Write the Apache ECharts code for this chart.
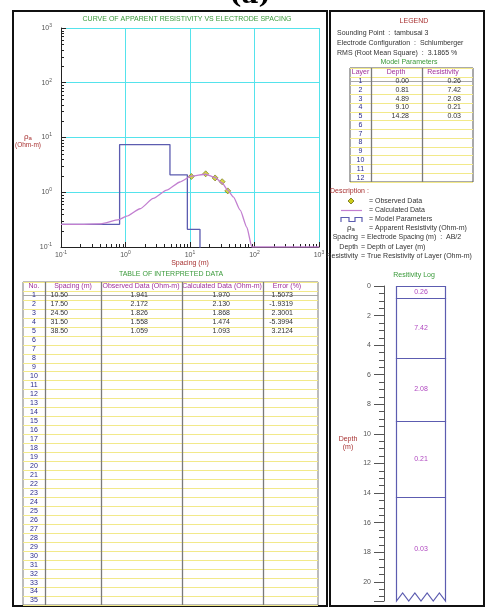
<!DOCTYPE html>
<html>
  <head>
    <meta charset="UTF-8" />
    <title>Resistivity sounding - tambusai 3</title>
    <script src="https://cdn.jsdelivr.net/npm/echarts@6/dist/echarts.min.js"></script>
    <style>
      html, body { margin: 0; padding: 0; background: #fff; }
      #main { width: 486px; height: 607px; }
    </style>
  </head>
  <body>
    <div id="main"></div>
    <script>
      // observed field data
      const spacing = [10.5, 17.5, 24.5, 31.5, 38.5];
      const observed = [1.941, 2.172, 1.826, 1.558, 1.059];
      const calculated = [1.97, 2.13, 1.868, 1.474, 1.093];
      const errorPct = [1.5073, -1.9319, 2.3001, -5.3994, 3.2124];

      // calculated curve
      const curveSpacing = [0.1, 0.2, 0.4, 0.79, 1.04, 1.68, 2.7, 4.35, 7.0, 10.5, 17.5, 24.5, 31.5, 38.5, 47, 60, 76, 91, 1000];
      const curveRho = [0.26, 0.26, 0.264, 0.316, 0.365, 0.5, 0.77, 1.09, 1.54, 1.97, 2.13, 1.868, 1.474, 1.093, 0.82, 0.47, 0.23, 0.1, 0.1];

      // model parameters
      const layerDepth = [0.0, 0.81, 4.89, 9.1, 14.28];
      const layerRes = [0.26, 7.42, 2.08, 0.21, 0.03];

      const dataHeaders = ['No.', 'Spacing (m)', 'Observed Data (Ohm-m)', 'Calculated Data (Ohm-m)', 'Error (%)'];
      const modelHeaders = ['Layer', 'Depth', 'Resistivity'];
      const soundingPoint = 'tambusai 3';
      const electrodeConfig = 'Schlumberger';
      const rms = '3.1865 %';

      const N_DATA_ROWS = 35;
      const N_MODEL_ROWS = 12;
      const LOG_BOTTOM = 21.3;

      const FONT = '"Liberation Sans", Arial, sans-serif';
      const GREEN = '#3a9a3a';
      const RED = '#a83232';
      const MAGENTA = '#a0309a';
      const NAVY = '#2a2a8a';
      const CYAN = '#55e3ec';
      const MODEL_BLUE = '#5c5cb0';
      const CALC_PURPLE = '#c27fd0';
      const YELLOW = '#f2e98a';

      // table layout (px offsets inside each table grid)
      const dataCols = [0, 22, 78, 159, 240, 295];
      const dataHeadX = [11, 50, 118, 199, 264];
      const dataTextX = [11, 45, 125, 207, 270];
      const dataAlign = ['center', 'right', 'right', 'right', 'right'];
      const modelCols = [0, 21, 72, 123];
      const modelHeadX = [10.5, 46, 93];
      const modelTextX = [10.5, 59, 111];
      const modelAlign = ['center', 'right', 'right'];

      const main = document.getElementById('main');
      const chart = echarts.init(main);

      function txt(x, y, text, opts) {
        return {
          type: 'text', x, y, silent: true,
          style: Object.assign({
            text, fill: '#333', fontSize: 7, fontFamily: FONT,
            align: 'left', verticalAlign: 'middle'
          }, opts || {})
        };
      }

      function rowCats(n) {
        const c = [''];
        for (let i = 1; i <= n; i++) c.push(String(i));
        return c;
      }

      function tableSeries(idx, nRows, cols, headers, headX, textX, aligns, cellsFor) {
        const data = [];
        for (let i = 0; i <= nRows; i++) data.push([0, i]);
        return {
          type: 'custom', xAxisIndex: idx, yAxisIndex: idx, silent: true, clip: false, z: 5,
          data,
          renderItem(params, api) {
            const i = params.dataIndex;
            const cs = params.coordSys;
            const y = api.coord([0, i])[1];
            const children = [];
            if (i === 0) {
              headers.forEach((h, c) => {
                children.push(txt(api.coord([headX[c], 0])[0], y, h, { fill: MAGENTA, align: 'center' }));
              });
              const yb = Math.round(api.coord([0, 0.5])[1]) + 0.5;
              children.push({ type: 'line', shape: { x1: cs.x, y1: yb, x2: cs.x + cs.width, y2: yb }, style: { stroke: '#a8a8a8', lineWidth: 1 } });
              cols.slice(1, -1).forEach((cx) => {
                const x = Math.round(api.coord([cx, 0])[0]) + 0.5;
                children.push({ type: 'line', shape: { x1: x, y1: cs.y, x2: x, y2: cs.y + cs.height }, style: { stroke: '#7a7a7a', lineWidth: 1.3 } });
              });
            } else {
              const cells = [String(i)].concat(cellsFor(i - 1));
              cells.forEach((t, c) => {
                if (!t) return;
                children.push(txt(api.coord([textX[c], i])[0], y, t, {
                  fill: c === 0 ? NAVY : '#333', align: aligns[c]
                }));
              });
            }
            return { type: 'group', children };
          }
        };
      }

      function expLabel(v) {
        return '{b|10}{e|' + Math.round(Math.log10(v)) + '}';
      }
      const expRich = {
        b: { fontSize: 7, color: '#555', fontFamily: FONT },
        e: { fontSize: 5, color: '#555', fontFamily: FONT, padding: [0, 0, 5, 0] }
      };

      const minorX = [];
      const minorY = [];
      for (let e = -1; e < 3; e++) {
        for (let m = 2; m <= 9; m++) {
          minorX.push([m * Math.pow(10, e), 0.1]);
          minorY.push([0.1, m * Math.pow(10, e)]);
        }
      }

      const option = {
        animation: false,
        backgroundColor: '#fff',
        grid: [
          { left: 61, top: 28, width: 258, height: 219 },
          { left: 23, top: 282, width: 295, height: 323, show: true, borderColor: '#7a7a7a', borderWidth: 1 },
          { left: 350, top: 68, width: 123, height: 114, show: true, borderColor: '#555', borderWidth: 1 },
          { left: 384, top: 286, width: 62, height: 315 }
        ],
        xAxis: [
          {
            gridIndex: 0, type: 'log', logBase: 10, min: 0.1, max: 1000,
            name: 'Spacing (m)', nameLocation: 'middle', nameGap: 10,
            nameTextStyle: { color: RED, fontSize: 7, fontFamily: FONT },
            axisLine: { lineStyle: { color: '#222' } },
            axisTick: { inside: true, length: 5, lineStyle: { color: '#222' } },
            axisLabel: { margin: 3, formatter: expLabel, rich: expRich },
            splitLine: { show: true, lineStyle: { color: CYAN, width: 1 } }
          },
          { gridIndex: 1, type: 'value', min: 0, max: 295, show: false },
          { gridIndex: 2, type: 'value', min: 0, max: 123, show: false },
          { gridIndex: 3, type: 'value', min: 0, max: 1, show: false }
        ],
        yAxis: [
          {
            gridIndex: 0, type: 'log', logBase: 10, min: 0.1, max: 1000,
            axisLine: { show: true, lineStyle: { color: '#222' } },
            axisTick: { show: true, inside: true, length: 5, lineStyle: { color: '#222' } },
            axisLabel: { margin: 9, formatter: expLabel, rich: expRich },
            splitLine: { show: true, lineStyle: { color: CYAN, width: 1 } }
          },
          {
            gridIndex: 1, type: 'category', inverse: true, data: rowCats(N_DATA_ROWS),
            axisLine: { show: false }, axisTick: { show: false }, axisLabel: { show: false },
            splitLine: { show: true, interval: 0, lineStyle: { color: YELLOW } }
          },
          {
            gridIndex: 2, type: 'category', inverse: true, data: rowCats(N_MODEL_ROWS),
            axisLine: { show: false }, axisTick: { show: false }, axisLabel: { show: false },
            splitLine: { show: true, interval: 0, lineStyle: { color: YELLOW } }
          },
          {
            gridIndex: 3, type: 'value', inverse: true, min: 0, max: LOG_BOTTOM, interval: 2,
            axisLine: { show: true, lineStyle: { color: '#555' } },
            axisTick: { show: true, length: 10, lineStyle: { color: '#555' } },
            minorTick: { show: true, splitNumber: 4, length: 5, lineStyle: { color: '#555' } },
            axisLabel: { margin: 13, fontSize: 7, color: '#555', fontFamily: FONT, showMaxLabel: false },
            splitLine: { show: false }
          }
        ],
        series: [
          {
            // minor log ticks, x axis
            type: 'custom', xAxisIndex: 0, yAxisIndex: 0, silent: true, clip: false, z: 3,
            data: minorX,
            renderItem(params, api) {
              const p = api.coord([api.value(0), api.value(1)]);
              const x = Math.round(p[0]) + 0.5;
              return { type: 'line', shape: { x1: x, y1: p[1], x2: x, y2: p[1] - 3 }, style: { stroke: '#222', lineWidth: 1 } };
            }
          },
          {
            // minor log ticks, y axis
            type: 'custom', xAxisIndex: 0, yAxisIndex: 0, silent: true, clip: false, z: 3,
            data: minorY,
            renderItem(params, api) {
              const p = api.coord([api.value(0), api.value(1)]);
              const y = Math.round(p[1]) + 0.5;
              return { type: 'line', shape: { x1: p[0], y1: y, x2: p[0] + 3, y2: y }, style: { stroke: '#222', lineWidth: 1 } };
            }
          },
          {
            name: 'Model Parameters', type: 'line', xAxisIndex: 0, yAxisIndex: 0,
            step: 'end', showSymbol: false, clip: true,
            data: layerDepth.map((d, i) => [Math.max(d, 0.1), layerRes[i]]),
            lineStyle: { color: MODEL_BLUE, width: 1.3 }
          },
          {
            name: 'Calculated Data', type: 'line', xAxisIndex: 0, yAxisIndex: 0,
            smooth: 0.2, smoothMonotone: 'x', showSymbol: false, clip: true,
            data: curveSpacing.map((s, i) => [s, curveRho[i]]),
            lineStyle: { color: CALC_PURPLE, width: 1.3 }
          },
          {
            name: 'Observed Data', type: 'scatter', xAxisIndex: 0, yAxisIndex: 0,
            symbol: 'diamond', symbolSize: 6,
            data: spacing.map((s, i) => [s, observed[i]]),
            itemStyle: { color: '#cccc1a', borderColor: '#6b6b10', borderWidth: 0.8 }
          },
          tableSeries(1, N_DATA_ROWS, dataCols, dataHeaders, dataHeadX, dataTextX, dataAlign, (r) =>
            r < spacing.length
              ? [spacing[r].toFixed(2), observed[r].toFixed(3), calculated[r].toFixed(3), errorPct[r].toFixed(4)]
              : []
          ),
          tableSeries(2, N_MODEL_ROWS, modelCols, modelHeaders, modelHeadX, modelTextX, modelAlign, (r) =>
            r < layerDepth.length ? [layerDepth[r].toFixed(2), layerRes[r].toFixed(2)] : []
          ),
          {
            // resistivity log column
            type: 'custom', xAxisIndex: 3, yAxisIndex: 3, silent: true, clip: false,
            data: layerDepth.map((d, i) => [0.5, d]),
            renderItem(params, api) {
              const i = params.dataIndex;
              const last = i === layerDepth.length - 1;
              const top = layerDepth[i];
              const bottom = last ? LOG_BOTTOM : layerDepth[i + 1];
              const p0 = api.coord([0.19, top]);
              const p1 = api.coord([1, bottom]);
              const xl = Math.round(p0[0]) + 0.5;
              const xr = Math.round(p1[0]) - 0.5;
              const yt = Math.round(p0[1]) + 0.5;
              const yb = p1[1];
              const stroke = { stroke: MODEL_BLUE, lineWidth: 1.2, fill: null };
              const children = [];
              if (!last) {
                children.push({ type: 'rect', shape: { x: xl, y: yt, width: xr - xl, height: Math.round(yb) + 0.5 - yt }, style: stroke });
              } else {
                const pts = [[xr, yt], [xl, yt], [xl, yb]];
                for (let k = 1; k <= 8; k++) {
                  pts.push([xl + (k * (xr - xl)) / 8, k % 2 ? yb - 8 : yb]);
                }
                pts.push([xr, yt]);
                children.push({ type: 'polyline', shape: { points: pts }, style: stroke });
              }
              children.push(txt((xl + xr) / 2, (yt + yb) / 2, layerRes[i].toFixed(2), { fill: '#b048c0', align: 'center' }));
              return { type: 'group', children };
            }
          }
        ],
        graphic: [
          { type: 'rect', silent: true, shape: { x: 13, y: 11, width: 314, height: 595 }, style: { fill: null, stroke: '#111', lineWidth: 2 } },
          { type: 'rect', silent: true, shape: { x: 330, y: 11, width: 154, height: 595 }, style: { fill: null, stroke: '#111', lineWidth: 2 } },
          txt(250, 9, '(a)', { fontSize: 26, fontWeight: 'bold', fontFamily: '"DejaVu Serif", serif', fill: '#000', align: 'center', verticalAlign: 'bottom' }),
          txt(187, 19, 'CURVE OF APPARENT RESISTIVITY VS ELECTRODE SPACING', { fill: GREEN, align: 'center' }),
          txt(171, 274, 'TABLE OF INTERPRETED DATA', { fill: GREEN, align: 'center' }),
          txt(28, 137, '{r|ρ}{s|a}', { fill: RED, align: 'center', rich: { r: { fontSize: 8, fill: RED }, s: { fontSize: 6, fill: RED, padding: [3, 0, 0, 0] } } }),
          txt(28, 145, '(Ohm-m)', { fill: RED, align: 'center', fontSize: 6.5 }),
          // legend panel
          txt(414, 21, 'LEGEND', { fill: RED, align: 'center' }),
          txt(337, 33, 'Sounding Point  :  ' + soundingPoint),
          txt(337, 43, 'Electrode Configuration  :  ' + electrodeConfig),
          txt(337, 53, 'RMS (Root Mean Square)  :  ' + rms),
          txt(409, 62, 'Model Parameters', { fill: GREEN, align: 'center' }),
          txt(330, 191, 'Description :', { fill: RED }),
          { type: 'polygon', silent: true, shape: { points: [[351, 198], [354, 201], [351, 204], [348, 201]] }, style: { fill: '#cccc1a', stroke: '#6b6b10', lineWidth: 0.8 } },
          txt(369, 201, '= Observed Data'),
          { type: 'line', silent: true, shape: { x1: 341, y1: 210.5, x2: 362, y2: 210.5 }, style: { stroke: CALC_PURPLE, lineWidth: 1.2 } },
          txt(369, 210, '= Calculated Data'),
          { type: 'polyline', silent: true, shape: { points: [[341, 222], [341, 217.5], [349, 217.5], [349, 221.5], [355, 221.5], [355, 217.5], [362, 217.5], [362, 222]] }, style: { stroke: MODEL_BLUE, lineWidth: 1.2, fill: null } },
          txt(369, 219, '= Model Parameters'),
          txt(351, 228, '{r|ρ}{s|a}', { align: 'center', rich: { r: { fontSize: 8, fill: '#333' }, s: { fontSize: 6, fill: '#333', padding: [3, 0, 0, 0] } } }),
          txt(369, 228, '= Apparent Resistivity (Ohm-m)'),
          txt(358, 237, 'Spacing', { align: 'right' }),
          txt(361, 237, '= Electrode Spacing (m)  :  AB/2'),
          txt(358, 247, 'Depth', { align: 'right' }),
          txt(361, 247, '= Depth of Layer (m)'),
          txt(358, 256, 'Resistivity', { align: 'right' }),
          txt(361, 256, '= True Resistivity of Layer (Ohm-m)'),
          txt(414, 275, 'Resitivity Log', { fill: GREEN, align: 'center' }),
          txt(348, 439, 'Depth', { fill: RED, align: 'center' }),
          txt(348, 447, '(m)', { fill: RED, align: 'center' })
        ]
      };
      chart.setOption(option);
    </script>
  </body>
</html>
